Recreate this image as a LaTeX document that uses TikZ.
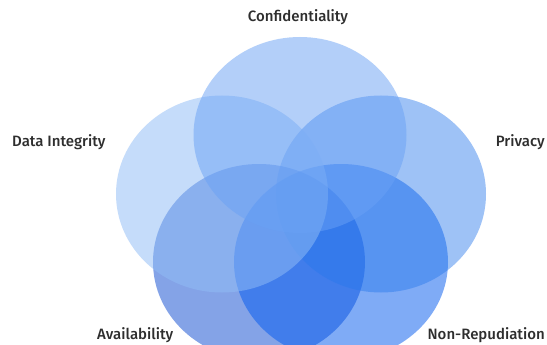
\documentclass[tikz,border=0pt]{standalone}
\usepackage{fontspec}
\setmainfont{Fira Sans}[UprightFont=* Medium]
\begin{document}
\begin{tikzpicture}[x=1pt,y=-1pt,
  lbl/.style={font=\fontsize{15}{17}\selectfont,text=black!82,inner sep=0pt}]
\definecolor{cA}{RGB}{20,80,210}
\definecolor{cN}{RGB}{0,89,239}
\definecolor{cP}{RGB}{40,120,237}
\definecolor{cD}{RGB}{144,188,246}
\definecolor{cC}{RGB}{105,161,245}
\useasboundingbox (0,0) rectangle (547,345);
\fill[white] (0,0) rectangle (547,345);
\begin{scope}
\clip (0,0) rectangle (547,345);
\fill[cA,fill opacity=0.52] (259,262) ellipse [x radius=106,y radius=98];
\fill[cN,fill opacity=0.50] (341,262) ellipse [x radius=107,y radius=98];
\fill[cP,fill opacity=0.45] (381,194) ellipse [x radius=105,y radius=98.5];
\fill[cD,fill opacity=0.52] (222,194) ellipse [x radius=106,y radius=98.5];
\fill[cC,fill opacity=0.50] (300,135) ellipse [x radius=106.5,y radius=98];
\end{scope}
\node[lbl] (conf) at (298,17) {Confidentiality};
\node[lbl,anchor=west] (di) at (12,142) {Data Integrity};
\node[lbl,anchor=east] (pr) at (545,142) {Privacy};
\node[lbl,anchor=west] (av) at (97,335) {Availability};
\node[lbl,anchor=east] (nr) at (545,335) {Non-Repudiation};
\end{tikzpicture}
\end{document}
